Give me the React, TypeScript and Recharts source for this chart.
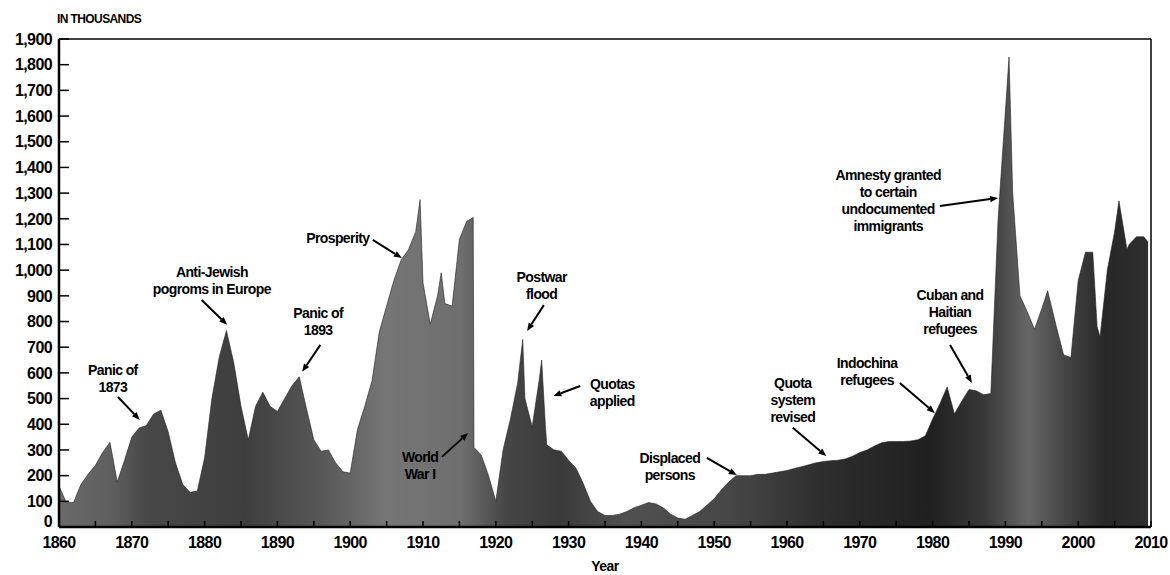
import React from 'react';
import { AreaChart, Area, XAxis, YAxis, ReferenceLine, ReferenceDot, Label } from 'recharts';

// Year (x) and immigrants in thousands (y)
const years = [
  1860, 1861, 1862, 1863, 1864, 1865, 1866, 1867, 1868, 1869,
  1870, 1871, 1872, 1873, 1874, 1875, 1876, 1877, 1878, 1879,
  1880, 1881, 1882, 1883, 1884, 1885, 1886, 1887, 1888, 1889,
  1890, 1891, 1892, 1893, 1894, 1895, 1896, 1897, 1898, 1899,
  1900, 1901, 1902, 1903, 1904, 1905, 1906, 1907, 1908, 1909, 1909.6,
  1910, 1911, 1912, 1912.5, 1913, 1914, 1915, 1916, 1916.9,
  1917, 1918, 1919, 1920, 1921, 1922, 1923, 1923.7, 1924, 1925, 1926, 1926.3, 1926.8,
  1927, 1928, 1929, 1930, 1931, 1932, 1933, 1934, 1935, 1936, 1937, 1938, 1939,
  1940, 1941, 1942, 1943, 1944, 1945, 1946, 1947, 1948, 1949,
  1950, 1951, 1952, 1953, 1954, 1955, 1956, 1957, 1958, 1959,
  1960, 1961, 1962, 1963, 1964, 1965, 1966, 1967, 1968, 1969,
  1970, 1971, 1972, 1973, 1974, 1975, 1976, 1977, 1978, 1979,
  1980, 1981, 1982, 1983, 1984, 1985, 1986, 1987, 1988, 1989, 1990.5,
  1991, 1992, 1993, 1994, 1995, 1995.8, 1997, 1998, 1999,
  2000, 2001, 2002, 2002.6, 2003, 2004, 2005, 2005.6, 2006, 2006.7, 2007, 2008, 2009, 2009.6,
];
const immigrants = [
  160, 95, 95, 165, 205, 240, 290, 330, 175, 260,
  350, 385, 395, 440, 455, 370, 250, 165, 135, 140,
  270, 500, 660, 765, 640, 470, 340, 470, 525, 470,
  450, 500, 550, 585, 460, 340, 295, 300, 250, 215,
  210, 380, 470, 570, 760, 860, 960, 1040, 1080, 1150, 1275,
  950, 790, 900, 990, 870, 860, 1120, 1190, 1205,
  310, 280, 200, 100, 300, 420, 560, 730, 500, 390, 580, 650, 400,
  320, 300, 295, 260, 230, 170, 100, 60, 45, 45, 50, 60, 75,
  85, 95, 90, 75, 50, 35, 30, 45, 60, 85,
  110, 145, 175, 200, 200, 200, 205, 205, 210, 215,
  220, 228, 235, 242, 250, 255, 258, 260, 265, 275,
  290, 300, 315, 328, 333, 333, 333, 335, 340, 355,
  420, 480, 545, 440, 490, 535, 530, 515, 520, 1200, 1830,
  1300, 900, 838, 770, 850, 920, 780, 670, 660,
  960, 1070, 1070, 780, 740, 1000, 1150, 1270, 1200, 1080, 1100, 1130, 1130, 1110,
];
const xTicks = [
  1860, 1865, 1870, 1875, 1880, 1885, 1890, 1895, 1900, 1905, 1910, 1915, 1920, 1925,
  1930, 1935, 1940, 1945, 1950, 1955, 1960, 1965, 1970, 1975, 1980, 1985, 1990, 1995,
  2000, 2005, 2010,
];
const yTicks = [0, 100, 200, 300, 400, 500, 600, 700, 800, 900, 1000, 1100, 1200, 1300, 1400, 1500, 1600, 1700, 1800, 1900];

const data = years.map((y, i) => ({ year: y, value: immigrants[i] }));

// Annotations: text lines, anchor (year, value) of first line, arrow from/to (year, value)
const annotations = [
  { lines: ['Panic of', '1873'], at: [1867.4, 611], from: [1868.1, 506], to: [1871.1, 417] },
  { lines: ['Anti-Jewish', 'pogroms in Europe'], at: [1881.0, 993], from: [1879.6, 884], to: [1883.1, 787] },
  { lines: ['Panic of', '1893'], at: [1895.6, 833], from: [1895.9, 709], to: [1893.4, 604] },
  { lines: ['Prosperity'], at: [1898.3, 1125], from: [1903.1, 1118], to: [1907.1, 1047] },
  { lines: ['World', 'War I'], at: [1909.6, 273], from: [1912.6, 273], to: [1916.2, 366] },
  { lines: ['Postwar', 'flood'], at: [1926.3, 973], from: [1926.6, 864], to: [1924.3, 763] },
  { lines: ['Quotas', 'applied'], at: [1936.0, 557], from: [1931.6, 549], to: [1927.9, 510] },
  { lines: ['Displaced', 'persons'], at: [1943.9, 269], from: [1949.0, 269], to: [1953.1, 202] },
  { lines: ['Quota', 'system', 'revised'], at: [1960.8, 561], from: [1960.8, 386], to: [1965.4, 276] },
  { lines: ['Indochina', 'refugees'], at: [1971.0, 639], from: [1975.5, 561], to: [1980.3, 444] },
  { lines: ['Cuban and', 'Haitian', 'refugees'], at: [1982.4, 903], from: [1982.4, 709], to: [1985.4, 561] },
  { lines: ['Amnesty granted', 'to certain', 'undocumented', 'immigrants'], at: [1973.9, 1371], from: [1981.0, 1250], to: [1989.0, 1281] },
];

const FONT = "'Liberation Sans', Arial, sans-serif";

const Arrow = (p: any) => {
  const { x1, y1, x2, y2 } = p;
  if ([x1, y1, x2, y2].some((v) => typeof v !== 'number' || isNaN(v))) return null;
  const ang = Math.atan2(y2 - y1, x2 - x1);
  const L = 8, W = 3.2;
  const bx = x2 - L * Math.cos(ang), by = y2 - L * Math.sin(ang);
  const px = -Math.sin(ang) * W, py = Math.cos(ang) * W;
  return (
    <g>
      <line x1={x1} y1={y1} x2={bx} y2={by} stroke="#000" strokeWidth={2} />
      <polygon points={`${x2},${y2} ${bx + px},${by + py} ${bx - px},${by - py}`} fill="#000" />
    </g>
  );
};

const makeLabel = (lines: string[]) => (p: any) => {
  const { cx, cy } = p;
  return (
    <text x={cx} y={cy} textAnchor="middle" fontFamily={FONT} fontWeight="bold" fontSize={14} letterSpacing={-0.6} fill="#000">
      {lines.map((l, i) => (
        <tspan key={i} x={cx} y={cy + i * 17} dy="0.35em">{l}</tspan>
      ))}
    </text>
  );
};

const YTick = (p: any) => {
  const { x, y, payload } = p;
  const lift = payload.value === 0 ? -6 : 0;
  return (
    <text x={x} y={y + lift} dy="0.36em" textAnchor="end" fontFamily={FONT} fontWeight="bold" fontSize={16} letterSpacing={-0.6} fill="#000">
      {payload.value.toLocaleString('en-US')}
    </text>
  );
};

const XTick = (p: any) => {
  const { x, y, payload } = p;
  if (payload.value % 10 !== 0) return null;
  return (
    <text x={x} y={y} dy="0.71em" textAnchor="middle" fontFamily={FONT} fontWeight="bold" fontSize={16} letterSpacing={-0.6} fill="#000">
      {String(payload.value)}
    </text>
  );
};

export default function App() {
  return (
    <div style={{ position: 'absolute', left: 0, top: 0, background: '#fff' }}>
      <AreaChart width={1170} height={575} data={data} margin={{ top: 39, right: 19, left: 0, bottom: 0 }}>
        <defs>
          <linearGradient id="fillGrad" x1="0" y1="0" x2="1" y2="0">
            <stop offset="0%" stopColor="#6a6a6a" />
            <stop offset="5%" stopColor="#5e5e5e" />
            <stop offset="8%" stopColor="#484848" />
            <stop offset="17%" stopColor="#3e3e3e" />
            <stop offset="22%" stopColor="#505050" />
            <stop offset="26%" stopColor="#606060" />
            <stop offset="30%" stopColor="#767676" />
            <stop offset="37%" stopColor="#6e6e6e" />
            <stop offset="41%" stopColor="#464646" />
            <stop offset="46%" stopColor="#3a3a3a" />
            <stop offset="52%" stopColor="#505050" />
            <stop offset="62%" stopColor="#464646" />
            <stop offset="70%" stopColor="#2e2e2e" />
            <stop offset="80%" stopColor="#202020" />
            <stop offset="85%" stopColor="#383838" />
            <stop offset="89%" stopColor="#666" />
            <stop offset="92%" stopColor="#484848" />
            <stop offset="96%" stopColor="#282828" />
            <stop offset="100%" stopColor="#2e2e2e" />
          </linearGradient>
        </defs>
        <XAxis
          dataKey="year"
          type="number"
          domain={[1860, 2010]}
          ticks={xTicks}
          interval={0}
          tickSize={-6}
          tickMargin={16}
          height={48}
          axisLine={{ stroke: '#000', strokeWidth: 2.5 }}
          tickLine={{ stroke: '#000', strokeWidth: 1.5 }}
          tick={<XTick />}
        >
          <Label value="Year" position="insideBottom" offset={4} style={{ fontFamily: FONT, fontWeight: 'bold', fontSize: 14, fill: '#000', letterSpacing: '-0.5px' }} />
        </XAxis>
        <YAxis
          type="number"
          domain={[0, 1900]}
          ticks={yTicks}
          interval={0}
          width={59}
          tickSize={-10}
          tickMargin={17}
          axisLine={{ stroke: '#000', strokeWidth: 2.5 }}
          tickLine={{ stroke: '#000', strokeWidth: 1.5 }}
          tick={<YTick />}
        />
        <Area
          type="linear"
          dataKey="value"
          stroke="#222"
          strokeWidth={0.6}
          fill="url(#fillGrad)"
          fillOpacity={1}
          isAnimationActive={false}
        />
        <ReferenceLine y={1900} stroke="#000" strokeWidth={1.5} />
        <ReferenceLine x={2010} stroke="#000" strokeWidth={1.5} />
        {annotations.map((a, i) => (
          <ReferenceLine
            key={'arr' + i}
            segment={[{ x: a.from[0], y: a.from[1] }, { x: a.to[0], y: a.to[1] }]}
            shape={(p: any) => <Arrow {...p} />}
            ifOverflow="visible"
          />
        ))}
        {annotations.map((a, i) => (
          <ReferenceDot
            key={'lab' + i}
            x={a.at[0]}
            y={a.at[1]}
            r={0}
            ifOverflow="visible"
            shape={makeLabel(a.lines)}
          />
        ))}
      </AreaChart>
      <div
        style={{
          position: 'absolute',
          left: 57,
          top: 12,
          fontFamily: FONT,
          fontWeight: 'bold',
          fontSize: 12,
          color: '#000',
          letterSpacing: '-0.6px',
        }}
      >
        IN THOUSANDS
      </div>
    </div>
  );
}
